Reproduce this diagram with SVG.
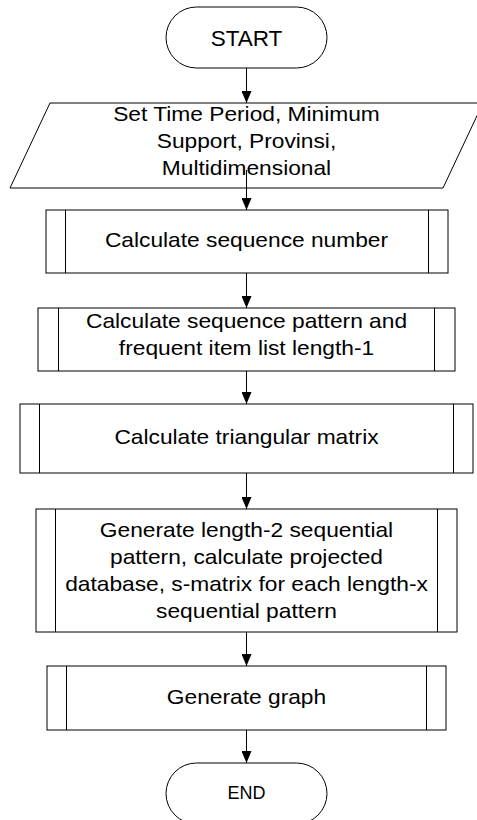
<svg xmlns="http://www.w3.org/2000/svg" width="477" height="820" viewBox="0 0 477 820">
<style>
.shape{fill:#fff;stroke:#000;stroke-width:1}
.inner{stroke:#000;stroke-width:1;fill:none}
.lbl{font-family:"Liberation Sans",Arial,sans-serif;font-size:20.5px;fill:#000;text-anchor:middle}
.term{font-family:"Liberation Sans",Arial,sans-serif;fill:#000;text-anchor:middle}
.conn{stroke:#000;stroke-width:1;fill:none;marker-end:url(#arrow)}
</style>
<defs>
<marker id="arrow" viewBox="0 0 12 10" refX="12" refY="5" markerWidth="12" markerHeight="10" markerUnits="userSpaceOnUse" orient="auto">
<path d="M0,0 L12,5 L0,10 z" fill="#000"/>
</marker>
</defs>
<rect width="477" height="820" fill="#fff"/>

<g id="connectors">
<path class="conn" d="M246.5 68 V103"/>
<path class="conn" d="M246.5 172 V210"/>
<path class="conn" d="M246.5 273 V308"/>
<path class="conn" d="M246.5 371 V404"/>
<path class="conn" d="M246.5 473 V509"/>
<path class="conn" d="M246.5 632 V666"/>
<path class="conn" d="M246.5 730 V763"/>
</g>

<g id="start">
<rect class="shape" x="166" y="7" width="161" height="61" rx="30.5" ry="30.5"/>
<text class="term" x="246.5" y="45.5" font-size="22.5">START</text>
</g>

<g id="input">
<polygon class="shape" points="50,103 483,103 443,188 10,188"/>
<g transform="translate(246.5 0) scale(1.11 1)">
<text class="lbl" x="0" y="121">Set Time Period, Minimum</text>
<text class="lbl" x="0" y="148">Support, Provinsi,</text>
<text class="lbl" x="0" y="175">Multidimensional</text>
</g>
<line class="inner" x1="246.5" y1="170" x2="246.5" y2="188"/>
</g>

<g id="calc-seq-number">
<rect class="shape" x="46" y="210" width="402" height="63"/>
<path class="inner" d="M65.5 210 V273 M428.5 210 V273"/>
<g transform="translate(246.5 0) scale(1.11 1)">
<text class="lbl" x="0" y="247">Calculate sequence number</text>
</g>
</g>

<g id="calc-seq-pattern">
<rect class="shape" x="38" y="308" width="417" height="63"/>
<path class="inner" d="M58.5 308 V371 M434.5 308 V371"/>
<g transform="translate(246.5 0) scale(1.11 1)">
<text class="lbl" x="0" y="328">Calculate sequence pattern and</text>
<text class="lbl" x="0" y="355">frequent item list length-1</text>
</g>
</g>

<g id="calc-triangular">
<rect class="shape" x="20" y="404" width="453" height="69"/>
<path class="inner" d="M39.5 404 V473 M453.5 404 V473"/>
<g transform="translate(246.5 0) scale(1.11 1)">
<text class="lbl" x="0" y="444">Calculate triangular matrix</text>
</g>
</g>

<g id="generate-length2">
<rect class="shape" x="36" y="509" width="421" height="123"/>
<path class="inner" d="M55.5 509 V632 M437.5 509 V632"/>
<g transform="translate(246.5 0) scale(1.11 1)">
<text class="lbl" x="0" y="537">Generate length-2 sequential</text>
<text class="lbl" x="0" y="564">pattern, calculate projected</text>
<text class="lbl" x="0" y="591">database, s-matrix for each length-x</text>
<text class="lbl" x="0" y="618">sequential pattern</text>
</g>
</g>

<g id="generate-graph">
<rect class="shape" x="47" y="666" width="399" height="64"/>
<path class="inner" d="M66.5 666 V730 M426.5 666 V730"/>
<g transform="translate(246.5 0) scale(1.11 1)">
<text class="lbl" x="0" y="704">Generate graph</text>
</g>
</g>

<g id="end">
<rect class="shape" x="166" y="763" width="161" height="61" rx="30.5" ry="30.5"/>
<text class="term" x="246.5" y="799" font-size="18">END</text>
</g>
</svg>
